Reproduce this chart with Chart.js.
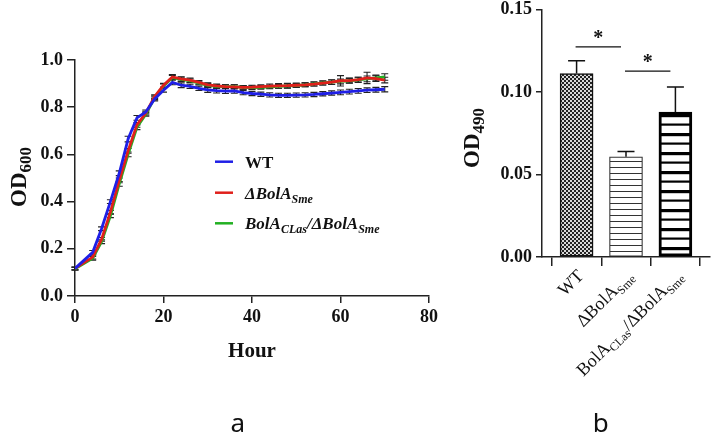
<!DOCTYPE html>
<html>
<head>
<meta charset="utf-8">
<script src="https://cdn.jsdelivr.net/npm/chart.js@4"></script>
<style>
  html, body { margin: 0; padding: 0; background: #fff; }
  #wrap { position: relative; width: 714px; height: 435px; }
  #wrap canvas { position: absolute; left: 0; top: 0; }
</style>
</head>
<body>
<div id="wrap">
  <canvas id="growthChart" width="714" height="435"></canvas>
  <canvas id="barChart" width="714" height="435"></canvas>
</div>
<script>
// ---- panel a: growth curves ----
const hours = [0,4,6,8,10,12,14,16,18,20,22,24,26,28,30,32,34,36,38,40,42,44,46,48,50,52,54,56,58,60,62,64,66,68,70];
const wtOD  = [0.117,0.185,0.285,0.400,0.520,0.665,0.755,0.780,0.835,0.872,
               0.905,0.893,0.888,0.880,0.873,0.870,0.868,0.869,0.862,0.858,
               0.855,0.852,0.850,0.850,0.851,0.852,0.854,0.857,0.860,0.863,
               0.866,0.869,0.872,0.874,0.876];
const wtErr = [0.006,0.008,0.008,0.008,0.010,0.012,0.010,0.008,0.008,0.008,
               0.010,0.010,0.009,0.009,0.010,0.010,0.010,0.010,0.009,0.009,
               0.009,0.009,0.009,0.009,0.009,0.009,0.009,0.009,0.009,0.010,
               0.010,0.010,0.010,0.010,0.011];
const mutOD  = [0.117,0.165,0.240,0.355,0.490,0.615,0.725,0.775,0.845,0.893,
                0.928,0.920,0.915,0.905,0.895,0.890,0.887,0.886,0.884,0.885,
                0.887,0.889,0.890,0.891,0.893,0.895,0.898,0.902,0.906,0.912,
                0.913,0.917,0.924,0.921,0.915];
const mutErr = [0.006,0.008,0.008,0.008,0.010,0.010,0.010,0.008,0.008,0.008,
                0.010,0.009,0.009,0.008,0.008,0.008,0.008,0.009,0.008,0.008,
                0.008,0.009,0.010,0.010,0.009,0.008,0.008,0.008,0.009,0.022,
                0.010,0.010,0.024,0.012,0.012];
const compOD  = [0.115,0.160,0.230,0.340,0.475,0.600,0.715,0.770,0.840,0.890,
                 0.925,0.918,0.912,0.902,0.893,0.888,0.887,0.887,0.884,0.883,
                 0.884,0.886,0.888,0.890,0.892,0.895,0.899,0.903,0.906,0.909,
                 0.912,0.916,0.920,0.924,0.928];
const compErr = [0.006,0.008,0.008,0.008,0.010,0.010,0.010,0.008,0.008,0.008,
                 0.010,0.009,0.008,0.008,0.008,0.008,0.008,0.008,0.008,0.008,
                 0.008,0.008,0.008,0.008,0.008,0.008,0.009,0.009,0.010,0.010,
                 0.010,0.011,0.012,0.012,0.014];
const xTicks = [0, 20, 40, 60, 80];

// ---- panel b: OD490 bars ----
const strains = ['WT', 'ΔBolA_Sme', 'BolA_CLas/ΔBolA_Sme'];
const barPos = [1, 2, 3];
const barOD = [0.1112, 0.0607, 0.0878];
const barErr = [0.0078, 0.0033, 0.0153];
const sigFrom = [0, 1];
const sigTo = [1, 2];
const sigLevel = [0.1273, 0.1126];

const SERIF = '"Liberation Serif", "DejaVu Serif", serif';

function richText(ctx, parts, x, y, align) {
  let w = 0;
  parts.forEach(p => { ctx.font = p[1]; w += ctx.measureText(p[0]).width; });
  let cx = align === 'right' ? x - w : align === 'center' ? x - w / 2 : x;
  ctx.textAlign = 'left';
  ctx.textBaseline = 'alphabetic';
  parts.forEach(p => {
    ctx.font = p[1];
    ctx.fillText(p[0], cx, y + (p[2] || 0));
    cx += ctx.measureText(p[0]).width;
  });
}

const errorBars = {
  id: 'errorBars',
  beforeDatasetsDraw(chart) {
    const ctx = chart.ctx, ys = chart.scales.y;
    ctx.save();
    ctx.strokeStyle = '#222';
    ctx.lineWidth = 1.1;
    chart.data.datasets.forEach((ds, di) => {
      const meta = chart.getDatasetMeta(di);
      meta.data.forEach((pt, i) => {
        const v = ds.data[i].y, e = ds.errors[i];
        const y1 = ys.getPixelForValue(v - e), y2 = ys.getPixelForValue(v + e);
        ctx.beginPath();
        ctx.moveTo(pt.x, y1); ctx.lineTo(pt.x, y2);
        ctx.moveTo(pt.x - 3.5, y1); ctx.lineTo(pt.x + 3.5, y1);
        ctx.moveTo(pt.x - 3.5, y2); ctx.lineTo(pt.x + 3.5, y2);
        ctx.stroke();
      });
    });
    ctx.restore();
  }
};

const growthText = {
  id: 'growthText',
  afterDraw(chart) {
    const ctx = chart.ctx, a = chart.chartArea;
    ctx.save();
    ctx.fillStyle = '#111';
    // legend
    const rows = [
      { c: '#1f1fe6', parts: [['WT', 'bold 17px ' + SERIF]] },
      { c: '#e0201b', parts: [['ΔBolA', 'italic bold 17px ' + SERIF], ['Sme', 'italic bold 12px ' + SERIF, 4]] },
      { c: '#22b022', parts: [['BolA', 'italic bold 17px ' + SERIF], ['CLas', 'italic bold 12px ' + SERIF, 4],
                              ['/ΔBolA', 'italic bold 17px ' + SERIF], ['Sme', 'italic bold 12px ' + SERIF, 4]] }
    ];
    const rowY = [161.7, 192.7, 223.3];
    rows.forEach((r, i) => {
      ctx.strokeStyle = r.c; ctx.lineWidth = 2.5;
      ctx.beginPath(); ctx.moveTo(215, rowY[i]); ctx.lineTo(233, rowY[i]); ctx.stroke();
      ctx.fillStyle = '#111';
      richText(ctx, r.parts, 245, rowY[i] + 6, 'left');
    });
    // axis titles
    ctx.font = 'bold 21px ' + SERIF;
    ctx.textAlign = 'center';
    ctx.fillText('Hour', (a.left + a.right) / 2, 357);
    ctx.save();
    ctx.translate(26, 177);
    ctx.rotate(-Math.PI / 2);
    richText(ctx, [['OD', 'bold 23px ' + SERIF], ['600', 'bold 17px ' + SERIF, 4.5]], 0, 0, 'center');
    ctx.restore();
    ctx.font = '26px "Noto Sans", sans-serif';
    ctx.textAlign = 'center';
    ctx.fillStyle = '#111';
    ctx.fillText('a', 237.7, 432);
    ctx.restore();
  }
};

function lineSet(label, ys, errs, color) {
  return {
    label: label,
    data: hours.map((h, i) => ({ x: h, y: ys[i] })),
    errors: errs,
    borderColor: color,
    borderWidth: 2.8,
    pointRadius: 0,
    tension: 0,
    fill: false
  };
}

const tickFont = { family: SERIF, size: 18, weight: 'bold' };

new Chart(document.getElementById('growthChart'), {
  type: 'line',
  data: {
    datasets: [
      lineSet('WT', wtOD, wtErr, '#1f1fe6'),
      lineSet('ΔBolA Sme', mutOD, mutErr, '#e0201b'),
      lineSet('BolA CLas/ΔBolA Sme', compOD, compErr, '#22b022')
    ]
  },
  options: {
    responsive: false,
    animation: false,
    layout: { padding: { left: 0, right: 285, top: 60, bottom: 99 } },
    plugins: { legend: { display: false }, tooltip: { enabled: false } },
    scales: {
      x: {
        type: 'linear', min: 0, max: 80,
        afterBuildTicks: s => { s.ticks = xTicks.map(v => ({ value: v })); },
        afterFit: s => { s.height = 40; },
        ticks: { color: '#111', font: tickFont, padding: 4, maxRotation: 0 },
        grid: { drawOnChartArea: false, drawTicks: true, tickLength: 7, color: '#222', lineWidth: 1.5 },
        border: { color: '#222', width: 1.5 }
      },
      y: {
        min: 0, max: 1.0,
        afterFit: s => { s.width = 75; },
        ticks: { stepSize: 0.2, color: '#111', font: tickFont, padding: 4, callback: v => v.toFixed(1) },
        grid: { drawOnChartArea: false, drawTicks: true, tickLength: 8, color: '#222', lineWidth: 1.5 },
        border: { color: '#222', width: 1.5 }
      }
    }
  },
  plugins: [errorBars, growthText]
});

// ---- bar patterns ----
function makePattern(w, h, draw) {
  const c = document.createElement('canvas');
  c.width = w; c.height = h;
  const g = c.getContext('2d');
  draw(g);
  return g.createPattern(c, 'repeat');
}
const checker = makePattern(4, 4, g => {
  g.fillStyle = '#d8d8d8'; g.fillRect(0, 0, 4, 4);
  g.fillStyle = '#222'; g.fillRect(0, 0, 2, 2); g.fillRect(2, 2, 2, 2);
});
const thinStripes = makePattern(8, 6, g => {
  g.fillStyle = '#fff'; g.fillRect(0, 0, 8, 6);
  g.fillStyle = '#333'; g.fillRect(0, 5, 8, 1.2);
});
const thickStripes = makePattern(8, 19, g => {
  g.fillStyle = '#fff'; g.fillRect(0, 0, 8, 19);
  g.fillStyle = '#000'; g.fillRect(0, 0, 8, 3.2); g.fillRect(0, 9.5, 8, 2.2);
});

const barExtras = {
  id: 'barExtras',
  afterDatasetsDraw(chart) {
    const ctx = chart.ctx, xs = chart.scales.x, ys = chart.scales.y;
    ctx.save();
    ctx.strokeStyle = '#111';
    ctx.lineWidth = 1.5;
    barPos.forEach((p, i) => {
      const x = xs.getPixelForValue(p);
      const y1 = ys.getPixelForValue(barOD[i]), y2 = ys.getPixelForValue(barOD[i] + barErr[i]);
      ctx.beginPath();
      ctx.moveTo(x, y1); ctx.lineTo(x, y2);
      ctx.moveTo(x - 8.5, y2); ctx.lineTo(x + 8.5, y2);
      ctx.stroke();
    });
    // significance
    ctx.lineWidth = 1.2;
    ctx.fillStyle = '#111';
    sigFrom.forEach((f, k) => {
      const xa = xs.getPixelForValue(barPos[f]) - 1, xb = xs.getPixelForValue(barPos[sigTo[k]]) - 5;
      const y = ys.getPixelForValue(sigLevel[k]);
      ctx.beginPath(); ctx.moveTo(xa, y); ctx.lineTo(xb, y); ctx.stroke();
      ctx.font = 'bold 20px ' + SERIF;
      ctx.textAlign = 'center';
      ctx.textBaseline = 'alphabetic';
      ctx.fillText('*', (xa + xb) / 2, y - 3);
    });
    ctx.restore();
  },
  afterDraw(chart) {
    const ctx = chart.ctx, xs = chart.scales.x, ys = chart.scales.y;
    ctx.save();
    ctx.fillStyle = '#111';
    const big = '18px ' + SERIF, small = '12px ' + SERIF;
    const labels = [
      [['WT', big]],
      [['ΔBolA', big], ['Sme', small, 4]],
      [['BolA', big], ['CLas', small, 4], ['/ΔBolA', big], ['Sme', small, 4]]
    ];
    barPos.forEach((p, i) => {
      ctx.save();
      ctx.translate(xs.getPixelForValue(p) + 8, ys.bottom + 20);
      ctx.rotate(-Math.PI / 4);
      richText(ctx, labels[i], 0, 0, 'right');
      ctx.restore();
    });
    ctx.save();
    ctx.translate(479, 138);
    ctx.rotate(-Math.PI / 2);
    richText(ctx, [['OD', 'bold 23px ' + SERIF], ['490', 'bold 17px ' + SERIF, 4.5]], 0, 0, 'center');
    ctx.restore();
    ctx.font = '26px "Noto Sans", sans-serif';
    ctx.textAlign = 'center';
    ctx.textBaseline = 'alphabetic';
    ctx.fillText('b', 600.7, 432);
    ctx.restore();
  }
};

new Chart(document.getElementById('barChart'), {
  type: 'bar',
  data: {
    datasets: [{
      label: 'OD490',
      data: barPos.map((p, i) => ({ x: p, y: barOD[i] })),
      backgroundColor: [checker, thinStripes, thickStripes],
      borderColor: ['#111', '#333', '#000'],
      borderWidth: [1.5, 1.2, 3],
      borderSkipped: false,
      barThickness: 33
    }]
  },
  options: {
    responsive: false,
    animation: false,
    layout: { padding: { left: 482, right: 4, top: 9.5, bottom: 178 - 30 } },
    plugins: { legend: { display: false }, tooltip: { enabled: false } },
    scales: {
      x: {
        type: 'linear', min: 0.3, max: 3.7, offset: false,
        afterBuildTicks: s => { s.ticks = barPos.map(v => ({ value: v })); },
        afterFit: s => { s.height = 30; },
        ticks: { display: false },
        grid: { drawOnChartArea: false, drawTicks: true, tickLength: 9, color: '#222', lineWidth: 1.5 },
        border: { color: '#222', width: 1.5 }
      },
      y: {
        min: 0, max: 0.15,
        afterFit: s => { s.width = 60; s.paddingTop = 0; s.paddingBottom = 0; },
        ticks: { stepSize: 0.05, color: '#111', font: tickFont, padding: 4, callback: v => v.toFixed(2) },
        grid: { drawOnChartArea: false, drawTicks: true, tickLength: 6, color: '#222', lineWidth: 1.5 },
        border: { color: '#222', width: 1.5 }
      }
    }
  },
  plugins: [barExtras]
});
</script>
</body>
</html>
